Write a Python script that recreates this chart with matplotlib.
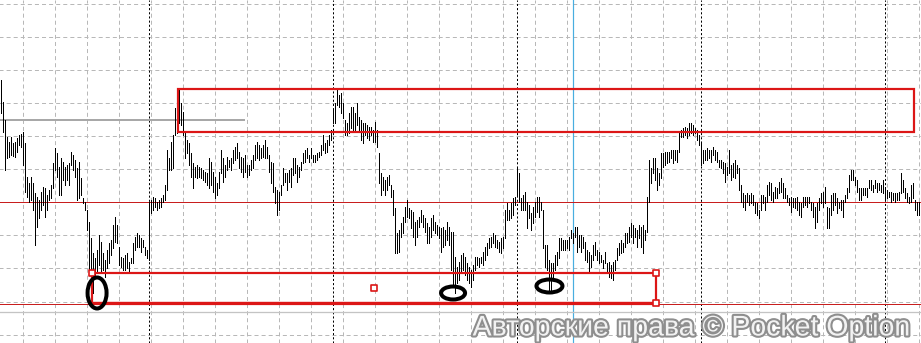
import matplotlib.pyplot as plt
import matplotlib.patheffects as pe
from matplotlib.patches import Rectangle, Ellipse

plt.rcParams['lines.scale_dashes'] = False

# bar highs / lows (price points), one bar per candle
bar_high = [
    263, 241, 223, 206, 201, 206, 200, 201, 205, 208, 209, 211, 200, 166, 160, 166, 160, 150, 146, 143,
    151, 156, 155, 148, 153, 158, 180, 195, 190, 176, 185, 181, 176, 178, 180, 191, 188, 183, 175, 181,
    165, 145, 141, 133, 121, 105, 90, 85, 93, 108, 101, 90, 83, 93, 100, 103, 118, 126, 118, 96,
    86, 85, 88, 90, 81, 85, 100, 106, 110, 108, 105, 103, 96, 93, 141, 143, 146, 145,
    141, 143, 145, 148, 158, 193, 185, 201, 208, 235, 248, 253, 240, 231, 211, 203, 200, 190, 180, 176,
    178, 176, 175, 173, 171, 170, 185, 181, 171, 166, 160, 171, 193, 185, 178, 186, 183, 185, 193, 196,
    200, 191, 186, 185, 188, 178, 178, 183, 188, 198, 201, 198, 195, 198, 203, 196, 188, 181, 180, 156,
    153, 151, 158, 175, 170, 170, 173, 175, 185, 185, 178, 176, 181, 190, 193,
    195, 188, 195, 188, 188, 190, 191, 198, 208, 200, 203, 208, 213, 233, 240, 253, 248, 250, 240, 223,
    220, 230, 236, 236, 230, 240, 226, 223, 220, 220, 218, 216, 216, 213, 221, 213, 190, 170, 166, 163,
    166, 168, 158, 153, 135, 110, 113, 120, 126, 136, 143, 135, 133, 131, 121, 123, 126, 133, 128, 125,
    120, 116, 125, 128, 121, 118, 116, 115, 116, 113, 121, 116,
    111, 111, 86, 76, 81, 88, 90, 86, 80, 76, 73, 78, 86, 86, 85, 86, 91, 96, 100, 105,
    106, 110, 108, 103, 101, 105, 106, 133, 140, 133, 140, 145, 146, 176, 170, 145, 148, 151, 141, 138,
    130, 136, 141, 146, 146, 141, 133, 98, 98, 83, 80, 80, 88, 91, 105, 105, 103, 103, 103, 106,
    113, 110, 116, 116, 108, 108, 106, 101, 93, 91, 88, 98, 101, 93, 91, 88, 83, 91,
    80, 81, 78, 81, 83, 95, 100, 103, 100, 110, 110, 116, 120, 118, 115, 113, 118, 116, 118, 113,
    146, 183, 175, 185, 185, 175, 170, 190, 190, 191, 191, 191, 193, 193, 193, 193, 211, 213, 215, 216,
    215, 220, 220, 218, 215, 213, 208, 201, 193, 193, 195, 193, 193, 196, 193, 191, 183, 183, 181, 180,
    176, 193, 178, 180, 183, 178, 175, 158, 150, 148, 150, 148, 150, 148, 141, 140, 133,
    148, 148, 146, 158, 161, 160, 151, 156, 155, 161, 165, 160, 155, 148, 145, 146, 145, 145, 146, 141,
    140, 146, 146, 146, 146, 141, 140, 136, 140, 145, 150, 151, 156, 136, 135, 148, 150, 150, 145, 141,
    143, 143, 148, 155, 168, 173, 173, 166, 163, 155, 155, 155, 155, 155, 163, 163, 158, 163, 160, 160,
    158, 163, 156, 153, 151, 151, 150, 150, 150, 151, 170, 163, 155, 150, 146, 158, 160, 143, 141, 141,
    138,
]
bar_low = [
    230, 211, 173, 185, 186, 188, 187, 186, 191, 198, 196, 178, 151, 146, 141, 143, 133, 98, 116, 125,
    133, 138, 126, 133, 143, 145, 155, 173, 166, 148, 148, 163, 158, 163, 158, 178, 173, 166, 143, 145,
    148, 140, 133, 113, 71, 65, 50, 65, 71, 78, 70, 73, 66, 75, 80, 88, 95, 101, 100, 78,
    76, 73, 73, 75, 71, 80, 80, 93, 96, 96, 91, 96, 88, 85, 83, 130, 133, 136,
    133, 135, 136, 141, 143, 153, 173, 173, 175, 208, 210, 220, 218, 208, 185, 190, 178, 166, 155, 166,
    165, 166, 165, 163, 161, 158, 155, 158, 151, 145, 148, 155, 170, 161, 166, 173, 176, 173, 180, 183,
    185, 175, 171, 166, 171, 166, 168, 173, 175, 183, 185, 183, 185, 186, 185, 185, 171, 160, 151, 140,
    128, 133, 148, 158, 161, 153, 161, 156, 168, 170, 161, 166, 173, 180, 181,
    185, 181, 185, 181, 181, 183, 186, 188, 193, 190, 191, 198, 203, 220, 220, 238, 236, 230, 225, 208,
    208, 210, 215, 211, 213, 218, 211, 203, 200, 208, 205, 203, 208, 201, 201, 196, 160, 148, 153, 148,
    153, 158, 146, 128, 90, 90, 91, 106, 110, 121, 126, 125, 115, 106, 98, 106, 116, 121, 116, 111,
    100, 100, 106, 113, 110, 108, 105, 91, 96, 98, 103, 98,
    73, 58, 50, 60, 63, 70, 73, 68, 63, 60, 56, 63, 73, 78, 76, 80, 78, 83, 88, 95,
    96, 100, 96, 95, 91, 90, 95, 105, 123, 123, 125, 128, 138, 148, 141, 133, 133, 133, 115, 125,
    113, 120, 126, 131, 126, 133, 95, 76, 73, 53, 53, 66, 73, 78, 85, 93, 93, 93, 95, 93,
    105, 100, 106, 91, 96, 91, 95, 83, 81, 71, 76, 83, 88, 83, 80, 81, 75, 80,
    70, 66, 65, 63, 73, 83, 88, 90, 91, 96, 100, 101, 106, 100, 106, 96, 105, 96, 90, 103,
    111, 141, 160, 170, 163, 153, 158, 165, 176, 178, 180, 181, 185, 180, 183, 181, 191, 206, 206, 208,
    205, 208, 210, 208, 210, 203, 198, 178, 180, 183, 183, 185, 181, 188, 183, 181, 176, 175, 170, 161,
    168, 170, 163, 166, 165, 170, 153, 141, 136, 133, 141, 138, 140, 138, 130, 128, 125,
    133, 140, 133, 141, 148, 143, 141, 145, 145, 150, 151, 145, 145, 141, 138, 131, 136, 135, 133, 128,
    126, 136, 138, 136, 140, 133, 126, 115, 121, 133, 140, 136, 140, 115, 115, 128, 133, 138, 130, 135,
    133, 126, 141, 145, 151, 163, 163, 158, 151, 143, 143, 148, 148, 146, 155, 153, 151, 155, 151, 153,
    151, 150, 143, 145, 146, 141, 143, 141, 143, 143, 150, 151, 145, 141, 140, 141, 145, 133, 128, 128,
    126,
]

grid_levels = [338.7, 305.7, 272.7, 239.7, 207, 173.7, 141.3, 108, 74.7, 41.3, 8]
grid_bars = list(range(11, 461, 16))
day_breaks = [74, 166, 258, 350, 442]
cursor_bar = 286
support_level = 141
bottom_level = 39.3
base_level = 31.3
old_level, old_level_end = 223, 122
top_zone = (88.5, 456.7, 211.3, 254)     # bar from, bar to, price low, price high
low_zone = (45.5, 327.7, 39.7, 70.3)
marks = [(48.2, 50, 9.5, 31), (226.2, 50, 12, 13), (274.4, 57, 13, 13)]

px = 0.72  # one pixel in points
red = '#dc1616'
n = len(bar_high)
idx = list(range(n))

fig = plt.figure(figsize=(9.21, 3.43), dpi=100)
ax = fig.add_axes([0, 0, 1, 1])
ax.set_xlim(-0.335, 460.165)
ax.set_ylim(0, 343)
ax.axis('off')

# grid
ax.hlines(grid_levels, -1, n + 1, colors='#b8b8b8', lw=px, linestyles=[(0, (2.9, 2.2))], zorder=1)
ax.vlines(grid_bars, 0, 343, colors='#b8b8b8', lw=px, linestyles=[(0, (2.9, 2.2))], zorder=1)
ax.vlines(day_breaks, 0, 343, colors='black', lw=px, linestyles=[(0, (1.5, 1.5))], zorder=2)
ax.axvline(cursor_bar, color='#48aee0', lw=px * 1.2, zorder=2)

# horizontal levels
ax.axhline(support_level, color='#c81e1e', lw=px, zorder=2)
ax.axhline(bottom_level, color='#c81e1e', lw=px, zorder=2)
ax.axhline(base_level, color='#c4c4c4', lw=px * 1.3, zorder=2)
ax.hlines(old_level, -1, old_level_end, colors='#a8a8a8', lw=px * 2, zorder=2)

# price bars
ax.vlines(idx, bar_low, bar_high, colors='black', lw=px, antialiased=False, zorder=3)

# zones
x0, x1, y0, y1 = top_zone
ax.add_patch(Rectangle((x0, y0), x1 - x0, y1 - y0, fill=False, ec=red, lw=px * 2.2, zorder=4))
x0, x1, y0, y1 = low_zone
ax.add_patch(Rectangle((x0, y0), x1 - x0, y1 - y0, fill=False, ec=red, lw=px * 2.2, zorder=4))
ax.hlines(y0, x0, x1, colors=red, lw=px * 3.2, zorder=4)
handles_x = [x0, x1, x1, (x0 + x1) / 2]
handles_y = [y1, y1, y0, (y0 + y1) / 2]
ax.scatter(handles_x, handles_y, marker='s', s=14, facecolor='white', edgecolor=red,
           linewidth=1.2, zorder=5)

# ellipse marks
for cx, cy, w, h in marks:
    ax.add_patch(Ellipse((cx, cy), w, h, fill=False, ec='black', lw=px * 4, zorder=6))

fig.text(911 / 921, 1 - 335.5 / 343, 'Авторские права © Pocket Option', ha='right', va='baseline',
         fontsize=20.5, family='Liberation Sans', color='#f2f2f2', zorder=7,
         path_effects=[pe.withStroke(linewidth=3, foreground='#8e8e8e')])

fig.savefig('out.png', dpi=100)
